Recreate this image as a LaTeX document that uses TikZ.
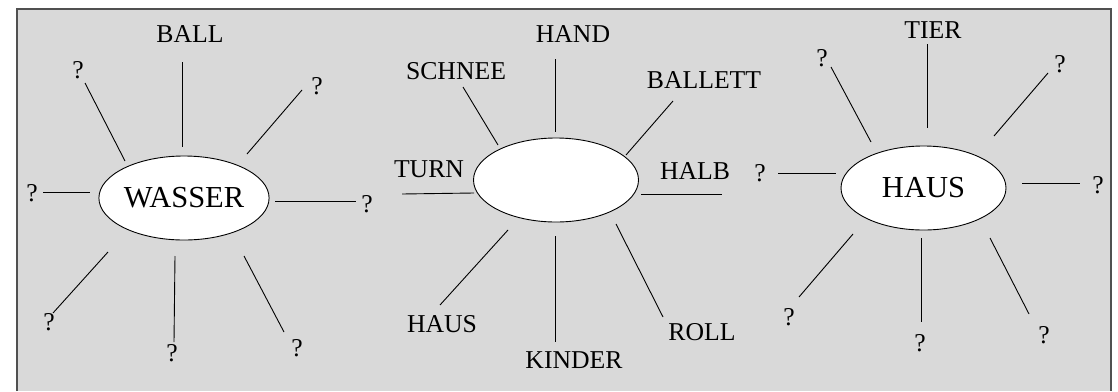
\documentclass[tikz,border=0pt]{standalone}
\usepackage{fontspec}
\setmainfont{Liberation Serif}
\usetikzlibrary{shapes.geometric}
\begin{document}
\begin{tikzpicture}[x=1pt,y=-1pt,
  lbl/.style={inner sep=0pt,font=\fontsize{25.7}{28}\selectfont},
  oval/.style={ellipse,draw=black,line width=0.9pt,fill=white,inner sep=0pt,
    minimum width=165pt,minimum height=84pt,font=\fontsize{30.5}{33}\selectfont},
  spoke/.style={draw=black,line width=0.9pt}]
\useasboundingbox (0,0) rectangle (1118,391);
\fill[fill={rgb,255:red,217;green,217;blue,217}] (17,9) rectangle (1111,391);
\draw[line width=1.5pt,draw={rgb,255:red,80;green,80;blue,80}] (17,391) -- (17,9) -- (1111,9) -- (1111,391);

% ---- left cluster
\node[oval] (w) at (184,198) {WASSER};
\node[lbl] (wt) at (190,34) {BALL};
\node[lbl] (wtl) at (78,70) {?};
\node[lbl] (wtr) at (317,86) {?};
\node[lbl] (wl) at (32,193) {?};
\node[lbl] (wr) at (367,204) {?};
\node[lbl] (wbl) at (49,322) {?};
\node[lbl] (wb) at (172,353) {?};
\node[lbl] (wbr) at (297,348) {?};
\coordinate (w1a) at (182,62);  \coordinate (w1b) at (182,147);
\coordinate (w2a) at (85,83);   \coordinate (w2b) at (125,161);
\coordinate (w3a) at (302,90);  \coordinate (w3b) at (247,154);
\coordinate (w4a) at (43,192);  \coordinate (w4b) at (90,192);
\coordinate (w5a) at (275,201); \coordinate (w5b) at (356,201);
\coordinate (w6a) at (108,252); \coordinate (w6b) at (53,313);
\coordinate (w7a) at (175,256); \coordinate (w7b) at (174,342);
\coordinate (w8a) at (244,256); \coordinate (w8b) at (284,332);
\foreach \i in {1,...,8} {\draw[spoke] (w\i a) -- (w\i b);}

% ---- middle cluster
\node[oval] (m) at (556,180) {};
\node[lbl] (mt) at (573,34) {HAND};
\node[lbl] (mtl) at (456,71) {SCHNEE};
\node[lbl] (mtr) at (704,80) {BALLETT};
\node[lbl] (ml) at (429,169) {TURN};
\node[lbl] (mr) at (695,171) {HALB};
\node[lbl] (mbl) at (442,324) {HAUS};
\node[lbl] (mb) at (574,360) {KINDER};
\node[lbl] (mbr) at (702,332) {ROLL};
\coordinate (m1a) at (555,59);  \coordinate (m1b) at (555,132);
\coordinate (m2a) at (463,87);  \coordinate (m2b) at (498,145);
\coordinate (m3a) at (673,101); \coordinate (m3b) at (626,155);
\coordinate (m4a) at (402,194); \coordinate (m4b) at (474,193);
\coordinate (m5a) at (641,194); \coordinate (m5b) at (722,194);
\coordinate (m6a) at (508,230); \coordinate (m6b) at (440,305);
\coordinate (m7a) at (555,236); \coordinate (m7b) at (555,342);
\coordinate (m8a) at (616,224); \coordinate (m8b) at (663,317);
\foreach \i in {1,...,8} {\draw[spoke] (m\i a) -- (m\i b);}

% ---- right cluster
\node[oval] (h) at (923.5,188) {HAUS};
\node[lbl] (ht) at (933,30) {TIER};
\node[lbl] (htl) at (822,58) {?};
\node[lbl] (htr) at (1060,64) {?};
\node[lbl] (hl) at (760,173) {?};
\node[lbl] (hr) at (1098,185) {?};
\node[lbl] (hbl) at (789,317) {?};
\node[lbl] (hb) at (920,343) {?};
\node[lbl] (hbr) at (1044,335) {?};
\coordinate (h1a) at (927,44);   \coordinate (h1b) at (927,128);
\coordinate (h2a) at (831,67);   \coordinate (h2b) at (871,142);
\coordinate (h3a) at (1048,73);  \coordinate (h3b) at (994,136);
\coordinate (h4a) at (778,173);  \coordinate (h4b) at (836,173);
\coordinate (h5a) at (1022,183); \coordinate (h5b) at (1080,183);
\coordinate (h6a) at (853,234);  \coordinate (h6b) at (799,297);
\coordinate (h7a) at (921,238);  \coordinate (h7b) at (921,322);
\coordinate (h8a) at (990,238);  \coordinate (h8b) at (1029,314);
\foreach \i in {1,...,8} {\draw[spoke] (h\i a) -- (h\i b);}
\end{tikzpicture}
\end{document}
